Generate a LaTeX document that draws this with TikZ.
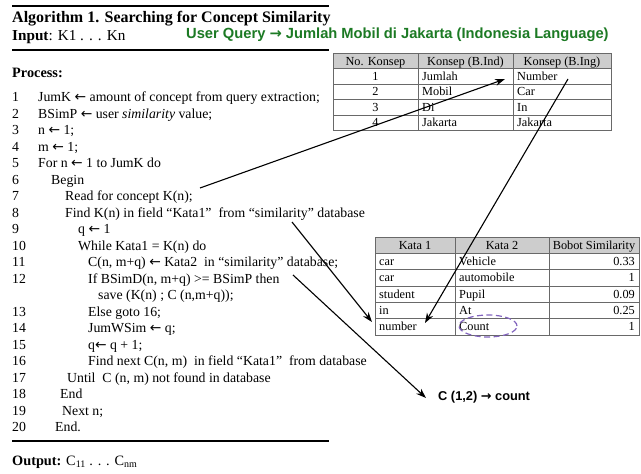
\documentclass[tikz,border=0pt]{standalone}
\usepackage{fontspec}
\setmainfont{Liberation Serif}
\newfontfamily\arial{Liberation Sans}
\newfontfamily\arrfont{DejaVu Sans}
\newcommand{\lar}{{\arrfont ←}}
\newcommand{\rar}{{\arrfont →}}
\usetikzlibrary{arrows.meta,shapes.geometric}
\definecolor{qgreen}{RGB}{28,122,36}
\definecolor{tgrid}{RGB}{105,105,105}
\definecolor{thead}{RGB}{205,205,205}
\definecolor{ovalc}{RGB}{130,100,190}
\begin{document}
\begin{tikzpicture}[x=1pt,y=-1pt,
  code/.style={anchor=base west,inner sep=0pt,font=\fontsize{13.8}{16}\selectfont},
  ttl/.style={anchor=base west,inner sep=0pt,font=\fontsize{16}{18}\selectfont},
  sect/.style={anchor=base west,inner sep=0pt,font=\fontsize{14.3}{16}\selectfont\bfseries},
  tc/.style={inner sep=0pt,font=\fontsize{12.3}{14}\selectfont},
  tcl/.style={tc,anchor=base west},
  tcm/.style={tc,anchor=base},
  tcr/.style={tc,anchor=base east},
  hrule/.style={line width=1.3pt},
  tgridline/.style={draw=tgrid,line width=0.9pt},
  arr/.style={line width=1.1pt,-{Stealth[length=10pt,width=7pt]}},
]
\useasboundingbox (0,0) rectangle (641,474);
\fill[white] (0,0) rectangle (641,474);

% header block
\draw[hrule] (12,6) -- (329,6);
\node[ttl] (title) at (12,22) {\bfseries Algorithm 1. Searching for Concept Similarity};
\node[ttl,font=\fontsize{15.2}{18}\selectfont] (input) at (12,40) {\textbf{Input}: K1 . . . Kn};
\node[anchor=base west,inner sep=0pt,font=\arial\bfseries\fontsize{14.7}{16}\selectfont,text=qgreen] (query) at (186,38) {User Query {\arrfont\bfseries →} Jumlah Mobil di Jakarta (Indonesia Language)};
\draw[hrule] (12,50) -- (329,50);
\node[sect] (process) at (12,77) {Process:};

% code lines
\foreach \n/\s in {1/0,2/1,3/2,4/3,5/4,6/5,7/6,8/7,9/8,10/9,11/10,12/11,13/13,14/14,15/15,16/16,17/17,18/18,19/19,20/20}
  \node[code] (n\n) at (12,101.7+16.5*\s) {\n};
\node[code] (l1) at (38,101.7) {JumK \lar{} amount of concept from query extraction;};
\node[code] (l2) at (38,118.2) {BSimP \lar{} user \textit{similarity} value;};
\node[code] (l3) at (38,134.7) {n \lar{} 1;};
\node[code] (l4) at (38,151.2) {m \lar{} 1;};
\node[code] (l5) at (38,167.7) {For n \lar{} 1 to JumK do};
\node[code] (l6) at (51,184.2) {Begin};
\node[code] (l7) at (65,200.7) {Read for concept K(n);};
\node[code] (l8) at (65,217.2) {Find K(n) in field “Kata1”\ \ from “similarity” database};
\node[code] (l9) at (78,233.7) {q \lar{} 1};
\node[code] (l10) at (78,250.2) {While Kata1 = K(n) do};
\node[code] (l11) at (88,266.7) {C(n, m+q) \lar{} Kata2\ \ in “similarity” database;};
\node[code] (l12) at (88,283.2) {If BSimD(n, m+q) >= BSimP then};
\node[code] (l12b) at (98,299.7) {save (K(n) ; C (n,m+q));};
\node[code] (l13) at (88,316.2) {Else goto 16;};
\node[code] (l14) at (88,332.7) {JumWSim \lar{} q;};
\node[code] (l15) at (88,349.2) {q\lar{} q + 1;};
\node[code] (l16) at (88,365.7) {Find next C(n, m)\ \ in field “Kata1”\ \ from database};
\node[code] (l17) at (67,382.2) {Until\ \ C (n, m) not found in database};
\node[code] (l18) at (60,398.7) {End};
\node[code] (l19) at (62,415.2) {Next n;};
\node[code] (l20) at (55,431.7) {End.};

\draw[hrule] (12,441) -- (329,441);
\node[sect] (output) at (12,465) {Output: \mdseries C\textsubscript{11} . . . C\textsubscript{nm}};

% table 1
\fill[thead] (333,53) rectangle (611,68.5);
\draw[tgridline] (333,53) rectangle (611,130.5);
\foreach \yy in {68.5,84,99.5,115} \draw[tgridline] (333,\yy) -- (611,\yy);
\foreach \xx in {418,513} \draw[tgridline] (\xx,53) -- (\xx,130.5);
\node[tcm] (h11) at (375.5,65) {No. Konsep};
\node[tcm] (h12) at (465.5,65) {Konsep (B.Ind)};
\node[tcm] (h13) at (562,65) {Konsep (B.Ing)};
\node[tcm] (a1) at (375.5,80.3) {1};
\node[tcm] (a2) at (375.5,95.8) {2};
\node[tcm] (a3) at (375.5,111.3) {3};
\node[tcm] (a4) at (375.5,126.8) {4};
\node[tcl] (b1) at (422,80.3) {Jumlah};
\node[tcl] (b2) at (422,95.8) {Mobil};
\node[tcl] (b3) at (422,111.3) {Di};
\node[tcl] (b4) at (422,126.8) {Jakarta};
\node[tcl] (c1) at (517,80.3) {Number};
\node[tcl] (c2) at (517,95.8) {Car};
\node[tcl] (c3) at (517,111.3) {In};
\node[tcl] (c4) at (517,126.8) {Jakarta};

% table 2
\fill[thead] (375,237) rectangle (639,253.3);
\draw[tgridline] (375,237) rectangle (639,335);
\foreach \yy in {253.3,269.7,286,302.3,318.7} \draw[tgridline] (375,\yy) -- (639,\yy);
\foreach \xx in {455,549} \draw[tgridline] (\xx,237) -- (\xx,335);
\node[tcm] (k1) at (415,249) {Kata 1};
\node[tcm] (k2) at (502,249) {Kata 2};
\node[tcm] (k3) at (594,249) {Bobot Similarity};
\node[tcl] (d1) at (379,265.5) {car};
\node[tcl] (d2) at (379,281.8) {car};
\node[tcl] (d3) at (379,298.2) {student};
\node[tcl] (d4) at (379,314.5) {in};
\node[tcl] (d5) at (379,330.8) {number};
\node[tcl] (e1) at (459,265.5) {Vehicle};
\node[tcl] (e2) at (459,281.8) {automobile};
\node[tcl] (e3) at (459,298.2) {Pupil};
\node[tcl] (e4) at (459,314.5) {At};
\node[tcl] (e5) at (459,330.8) {Count};
\node[tcr] (f1) at (635,265.5) {0.33};
\node[tcr] (f2) at (635,281.8) {1};
\node[tcr] (f3) at (635,298.2) {0.09};
\node[tcr] (f4) at (635,314.5) {0.25};
\node[tcr] (f5) at (635,330.8) {1};

\node[ellipse,draw=ovalc,line width=1.2pt,dash pattern=on 6pt off 3.5pt,minimum width=58pt,minimum height=22pt,inner sep=0pt] (oval) at (488,326) {};

% result
\node[anchor=base west,inner sep=0pt,font=\arial\bfseries\fontsize{12.8}{14}\selectfont] (res) at (438,400) {C (1,2) {\arrfont\bfseries →} count};

% connectors
\coordinate (aS) at (200,188);
\coordinate (aE) at (505,79);
\coordinate (bS) at (568,79);
\coordinate (bE) at (425,323);
\coordinate (cS) at (292,222);
\coordinate (cE) at (372,322);
\coordinate (dS) at (293,275);
\coordinate (dE) at (426,398);
\draw[arr] (aS) -- (aE);
\draw[arr] (bS) -- (bE);
\draw[arr] (cS) -- (cE);
\draw[arr] (dS) -- (dE);
\end{tikzpicture}
\end{document}
